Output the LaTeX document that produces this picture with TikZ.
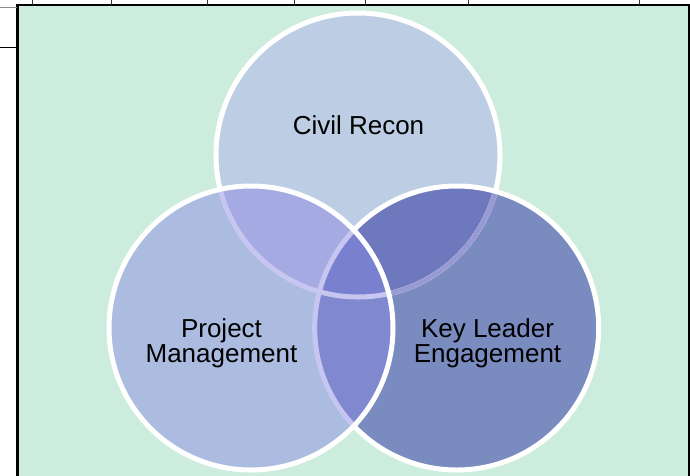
\documentclass[tikz,border=0pt]{standalone}
\usepackage{fontspec}
\setmainfont{Liberation Sans}
\definecolor{bg}{RGB}{204,237,221}
\definecolor{cT}{RGB}{188,205,228}
\definecolor{cL}{RGB}{171,188,224}
\definecolor{cR}{RGB}{122,139,191}
\definecolor{cTL}{RGB}{165,170,226}
\definecolor{cTR}{RGB}{110,120,188}
\definecolor{cLR}{RGB}{128,136,207}
\definecolor{cTLR}{RGB}{122,128,208}
\definecolor{fadeL}{RGB}{198,198,240}
\definecolor{fadeR}{RGB}{152,154,212}
\begin{document}
\begin{tikzpicture}[x=1pt,y=-1pt,
  ring/.style={line width=5pt},
  lbl/.style={font=\fontsize{26}{25}\selectfont, text=black, align=center, inner sep=0pt, anchor=base}]
\useasboundingbox (0,0) rectangle (690,475);
% background panel and frame lines
\fill[bg] (17,5) rectangle (690,476);
\draw[line width=2.6pt] (17.5,476) -- (17.5,4.2);
\draw[line width=1.7pt] (16.3,5) -- (691,5);
\draw[line width=1.5pt] (689,5) -- (689,476);
\foreach \x in {32,111,207,294,365,468,639} \draw[line width=0.9pt, black!80] (\x,0) -- (\x,5);
\draw[line width=1.2pt, black!45] (0,7.5) -- (16.5,7.5);
\draw[line width=1.3pt] (0,47.7) -- (16.5,47.7);
% circle centres
\coordinate (T) at (358,155);
\coordinate (L) at (251,328);
\coordinate (R) at (456.7,328);
% top circle
\fill[cT] (T) circle[radius=142pt];
% right circle
\fill[cR] (R) circle[radius=142pt];
\begin{scope}
  \clip (T) circle[radius=142pt];
  \fill[cTR] (R) circle[radius=142pt];
\end{scope}
\draw[ring, white] (T) circle[radius=142pt];
\begin{scope}
  \clip (R) circle[radius=142pt];
  \draw[ring, fadeR] (T) circle[radius=142pt];
\end{scope}
\draw[ring, white] (R) circle[radius=142pt];
% left circle
\fill[cL] (L) circle[radius=142pt];
\begin{scope}
  \clip (L) circle[radius=142pt];
  \fill[cTL] (T) circle[radius=142pt];
  \fill[cLR] (R) circle[radius=142pt];
  \clip (T) circle[radius=142pt];
  \fill[cTLR] (R) circle[radius=142pt];
\end{scope}
\begin{scope}
  \clip (L) circle[radius=142pt];
  \draw[ring, fadeL] (T) circle[radius=142pt];
  \draw[ring, fadeL] (R) circle[radius=142pt];
\end{scope}
\draw[ring, white] (L) circle[radius=142pt];
% labels
\node[lbl] (civil) at (358.5,134) {Civil Recon};
\node[lbl] (pm) at (221.5,362) {Project\\Management};
\node[lbl] (kle) at (487.5,362) {Key Leader\\Engagement};
\end{tikzpicture}
\end{document}
